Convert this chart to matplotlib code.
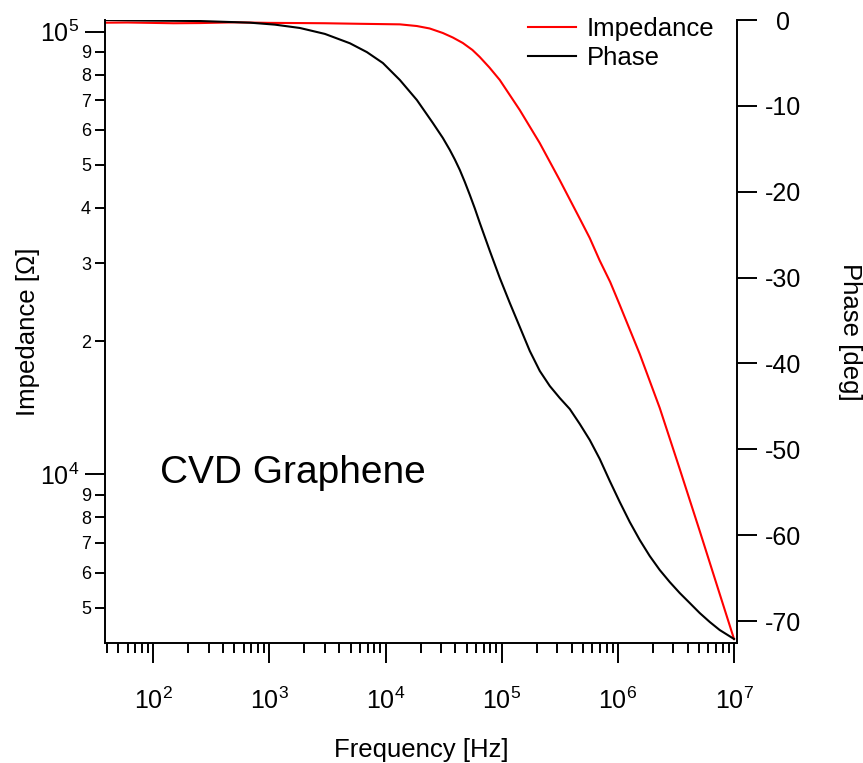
import matplotlib
matplotlib.use('Agg')
import matplotlib.pyplot as plt
from matplotlib.ticker import FixedLocator, FuncFormatter, NullFormatter
import numpy as np

plt.rcParams['font.family'] = ['Liberation Sans', 'DejaVu Sans']
plt.rcParams['mathtext.fontset'] = 'custom'
plt.rcParams['mathtext.rm'] = 'Liberation Sans'
plt.rcParams['mathtext.it'] = 'Liberation Sans:italic'
plt.rcParams['mathtext.default'] = 'regular'
plt.rcParams['axes.unicode_minus'] = False

# ---------------- data ----------------
freq_imp = [38.4, 60, 150, 252, 500, 1000, 1828, 3000, 6000, 13270, 18580, 23960,
            31120, 37930, 46240, 55950, 64710, 78370, 96160, 142900, 212300, 315500,
            468800, 572600, 696600, 858600, 1038500, 1543000, 2294000, 3410000,
            5068000, 7533000, 1.0e7]
impedance = [104800, 104900, 104500, 104600, 105000, 104700, 104600, 104500, 104200,
             103900, 103000, 101700, 99330, 97030, 94300, 90940, 87670, 83010, 77810,
             66550, 56050, 46230, 37860, 34190, 30430, 27200, 24130, 18700, 14120,
             10280, 7446, 5365, 4246]

freq_phase = [38.4, 93.7, 252.3, 679.5, 1115, 1830, 3003, 4931, 6904, 9480, 13280,
              18600, 25540, 31130, 35760, 39480, 43590, 48130, 53160, 58680, 64780,
              79000, 96300, 117400, 143200, 174500, 212800, 259400, 316200, 385600,
              470000, 573100, 698500, 851800, 1038500, 1266000, 1543000, 1881000,
              2294000, 2797000, 3410000, 4157000, 5068000, 6180000, 7533000, 1.0e7]
phase = [0.0, -0.07, -0.12, -0.31, -0.54, -0.93, -1.62, -2.71, -3.74, -5.01, -6.99,
         -9.32, -12.00, -13.74, -15.14, -16.25, -17.47, -18.87, -20.38, -21.95, -23.64,
         -26.90, -30.05, -32.96, -35.76, -38.55, -40.88, -42.63, -44.03, -45.31,
         -47.05, -48.92, -51.13, -53.69, -56.14, -58.47, -60.56, -62.43,
         -64.06, -65.46, -66.74, -67.90, -69.07, -70.11, -71.05, -72.09]

x_major_ticks = [1e2, 1e3, 1e4, 1e5, 1e6, 1e7]
y_major_ticks = [1e4, 1e5]
phase_ticks = [0, -10, -20, -30, -40, -50, -60, -70]
legend_labels = ['Impedance', 'Phase']
annotation = 'CVD Graphene'

# ---------------- figure ----------------
W, H = 863, 763
fig = plt.figure(figsize=(W / 100, H / 100), dpi=100)
L, R, B, T = 105, 737, 643, 20
ax = fig.add_axes([L / W, (H - B) / H, (R - L) / W, (B - T) / H])

red_line, = ax.plot(freq_imp, impedance, color='#ff0000', lw=1.5)
ax.set_xscale('log')
ax.set_yscale('log')
ax.set_xlim(38.4, 1.061e7)
ax.set_ylim(4158, 106280)

ax2 = ax.twinx()
blk_line, = ax2.plot(freq_phase, phase, color='black', lw=1.5)
ax2.set_ylim(-72.56, 0)

# spines
for s in ['top', 'right']:
    ax.spines[s].set_visible(False)
for s in ['top', 'left', 'bottom']:
    ax2.spines[s].set_visible(False)
for s in ['left', 'bottom']:
    ax.spines[s].set_linewidth(1.4)
ax2.spines['right'].set_linewidth(1.4)

# x ticks
minor_x = [m * 10 ** e for e in range(1, 7) for m in range(2, 10)]
ax.xaxis.set_major_locator(FixedLocator(x_major_ticks))
ax.xaxis.set_minor_locator(FixedLocator(minor_x))
ax.xaxis.set_major_formatter(FuncFormatter(lambda v, p: r'$10^{%d}$' % round(np.log10(v))))
ax.xaxis.set_minor_formatter(NullFormatter())

# y (left) ticks
minor_y = [m * 10 ** e for e in range(3, 5) for m in range(2, 10)]
ax.yaxis.set_major_locator(FixedLocator(y_major_ticks))
ax.yaxis.set_minor_locator(FixedLocator(minor_y))
ax.yaxis.set_major_formatter(FuncFormatter(lambda v, p: r'$10^{%d}$' % round(np.log10(v))))
ax.yaxis.set_minor_formatter(FuncFormatter(lambda v, p: '%d' % round(v / 10 ** np.floor(np.log10(v) + 1e-9))))

ax.tick_params(which='major', direction='out', length=14.4, width=1.4, labelsize=18)
ax.tick_params(which='minor', direction='out', length=7.0, width=1.4)
ax.tick_params(axis='y', which='minor', labelsize=13, pad=3)
ax.tick_params(axis='y', which='major', pad=4)
ax.tick_params(axis='x', which='major', pad=18)
ax.tick_params(top=False, right=False, which='both')

# right ticks
ax2.yaxis.set_major_locator(FixedLocator(phase_ticks))
ax2.yaxis.set_major_formatter(FuncFormatter(lambda v, p: '%d' % round(v)))
ax2.tick_params(axis='y', which='major', direction='out', length=14.4, width=1.4,
                labelsize=18, pad=19)
ax2.tick_params(axis='y', which='minor', right=False)
for lab in ax2.get_yticklabels():
    lab.set_horizontalalignment('center')

# labels
ax.set_xlabel('Frequency [Hz]', fontsize=18.5)
ax.xaxis.set_label_coords(0.5, (B - 738) / (B - T))
ax.set_ylabel('Impedance [Ω]', fontsize=18.5, va='center')
ax.yaxis.set_label_coords((28 - L) / (R - L), 0.5)
ax2.set_ylabel('Phase [deg]', fontsize=18.5, rotation=270, va='center')
ax2.yaxis.set_label_coords((850 - L) / (R - L), 0.5)

ax.text((160 - L) / (R - L), (B - 483) / (B - T), annotation, transform=ax.transAxes,
        fontsize=28, va='baseline', ha='left')

ax2.legend([red_line, blk_line], legend_labels, loc='upper left',
           bbox_to_anchor=(528 / W, (H - 17) / H), bbox_transform=fig.transFigure,
           frameon=False, fontsize=18.5, handlelength=1.85, handletextpad=0.45,
           labelspacing=0.18, borderpad=0, borderaxespad=0)

fig.savefig('out.png', dpi=100)
